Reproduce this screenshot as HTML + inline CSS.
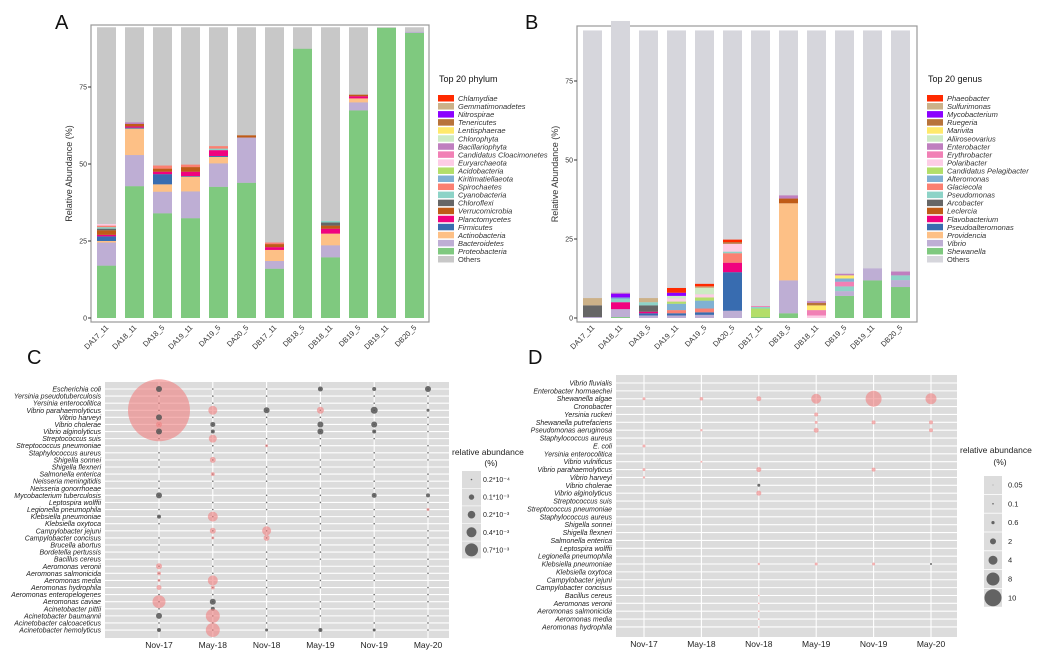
<!DOCTYPE html>
<html><head><meta charset="utf-8"><style>
html,body{margin:0;padding:0;background:#fff}
svg{display:block;font-family:"Liberation Sans",sans-serif}
</style></head><body>
<svg id="s" width="1043" height="660" xmlns="http://www.w3.org/2000/svg"></svg>
<script>
var S=document.getElementById('s'),h='';
function R(x,y,w,H,f,ex){h+='<rect x="'+x+'" y="'+y+'" width="'+w+'" height="'+H+'" fill="'+f+'" '+(ex||'')+'/>';}
function T(x,y,t,sz,ex){h+='<text x="'+x+'" y="'+y+'" font-size="'+sz+'" '+(ex||'')+'>'+t+'</text>';}
function C(x,y,r,f,op){h+='<circle cx="'+x+'" cy="'+y+'" r="'+r+'" fill="'+f+'" fill-opacity="'+op+'"/>';}
var pc=['#FF2A00','#CCB188','#8B00FF','#B8733A','#FFE96B','#CDEBC5','#BF7FBF','#F180B5','#FDCCE5','#B3DE69','#80B1D3','#FB8072','#8DD3C7','#666666','#BF5B17','#F0027F','#386CB0','#FDC086','#BEAED4','#7FC97F'];
var labs=['DA17_11','DA18_11','DA18_5','DA19_11','DA19_5','DA20_5','DB17_11','DB18_5','DB18_11','DB19_5','DB19_11','DB20_5'];
function barPanel(bx0,bx1,by0,by1,y0,ppu,bars,topv,oth,legx,legtitle,names,letter,lx){
 R(bx0,by0,bx1-bx0,by1-by0,'#fff','stroke="#999" stroke-width="1.2"');
 for(var i=0;i<12;i++){var x=bx0+6+28*i,b=bars[i],cum=0;
  R(x,y0-topv[i]*ppu,19,topv[i]*ppu,oth);
  for(var j=0;j<b.length;j++){var c=b[j][0],v=b[j][1];R(x,y0-v*ppu,19,(v-cum)*ppu,pc[c]);cum=v;}
  T(x+12,by1+6,labs[i],7.5,'text-anchor="end" fill="#333" transform="rotate(-45 '+(x+12)+' '+(by1+6)+')"');
 }
 [0,25,50,75].forEach(function(v){var y=y0-v*ppu;h+='<line x1="'+(bx0-3)+'" x2="'+bx0+'" y1="'+y+'" y2="'+y+'" stroke="#333"/>';T(bx0-4,y+2.5,v,7,'text-anchor="end" fill="#333"');});
 var cy=(by0+by1)/2;T(bx0-19,cy,'Relative Abundance (%)',9,'text-anchor="middle" fill="#333" transform="rotate(-90 '+(bx0-19)+' '+cy+')"');
 T(legx,82,legtitle,9,'fill="#111"');
 for(var k=0;k<21;k++){var yy=95+k*8.05;R(legx-1,yy,16,6.5,k<20?pc[k]:oth);T(legx+19,yy+6,names[k],7.5,(k<20?'font-style="italic" ':'')+'fill="#333"');}
 T(lx,29,letter,20,'fill="#111"');
}
var A=[[[19,17],[18,24.5],[17,25],[16,26.5],[15,27],[14,28.5],[13,29],[12,29.5],[11,30],[8,30.5]],
[[19,42.8],[18,52.9],[17,61.5],[16,61.8],[15,62.2],[14,63],[6,63.5]],
[[19,34],[18,41],[17,43.4],[16,46.7],[15,47.5],[14,48.5],[11,49.5]],
[[19,32.4],[18,41.1],[17,45.9],[16,46.1],[15,47.5],[14,49],[11,49.8]],
[[19,42.6],[18,50.2],[17,52.3],[16,52.6],[15,54.5],[12,55],[11,55.8]],
[[19,43.9],[18,58.6],[14,59.3]],
[[19,16],[18,18.5],[17,22.1],[15,23],[14,24],[11,24.5]],
[[19,87.4]],
[[19,19.7],[18,23.6],[17,27.4],[15,29],[14,30],[13,31],[12,31.5]],
[[19,67.4],[18,70],[17,71.3],[15,72],[14,72.5]],
[[19,94.2]],
[[19,92.6],[18,92.9]]];
var At=[94.4,94.4,94.4,94.4,94.4,94.4,94.4,94.4,94.4,94.4,94.4,94.4];
barPanel(91,429,25,322,318,3.08,A,At,'#C8C8C8',439,'Top 20 phylum',['Chlamydiae','Gemmatimonadetes','Nitrospirae','Tenericutes','Lentisphaerae','Chlorophyta','Bacillariophyta','Candidatus Cloacimonetes','Euryarchaeota','Acidobacteria','Kiritimatiellaeota','Spirochaetes','Cyanobacteria','Chloroflexi','Verrucomicrobia','Planctomycetes','Firmicutes','Actinobacteria','Bacteroidetes','Proteobacteria','Others'],'A',55);
var B=[[[18,0.3],[13,4],[1,6.3]],
[[19,0.3],[18,2.8],[15,5],[12,6],[10,6.5],[2,7.7],[6,8]],
[[18,0.8],[16,1.5],[15,2],[13,4],[12,5],[1,6.3]],
[[18,0.8],[16,1.5],[11,2.5],[10,4.5],[9,5.2],[8,6.2],[5,7],[2,8],[0,9.5]],
[[18,1],[16,1.8],[11,3],[10,5.5],[9,6.5],[8,7.5],[5,9.5],[1,10],[0,10.8]],
[[18,2.3],[16,14.5],[15,17.5],[11,20.5],[12,21],[8,23.5],[3,24],[0,24.8]],
[[19,0.3],[9,3],[12,3.5],[7,3.8]],
[[19,1.5],[18,11.9],[17,36.3],[14,37.8],[6,38.8]],
[[8,0.8],[7,2.5],[4,4],[3,4.8],[6,5.3]],
[[19,7],[18,8.5],[12,10],[7,11.5],[10,12.5],[4,13.5],[6,14]],
[[19,11.9],[18,15.7]],
[[19,9.8],[18,12],[12,13.5],[6,14.7]]];
var Bt=[91,94,91,91,91,91,91,91,91,91,91,91];
barPanel(577,917,26,322,318,3.16,B,Bt,'#D6D6DC',928,'Top 20 genus',['Phaeobacter','Sulfurimonas','Mycobacterium','Ruegeria','Marivita','Aliiroseovarius','Enterobacter','Erythrobacter','Polaribacter','Candidatus Pelagibacter','Alteromonas','Glaciecola','Pseudomonas','Arcobacter','Leclercia','Flavobacterium','Pseudoalteromonas','Providencia','Vibrio','Shewanella','Others'],'B',525);
var cols=['Nov-17','May-18','Nov-18','May-19','Nov-19','May-20'];
function bub(px0,px1,py0,py1,ry0,rp,cx0,cp,rows,data,letter,lx,ly){
 R(px0,py0,px1-px0,py1-py0,'#DCDCDC');
 rows.forEach(function(n,i){var y=ry0+i*rp;h+='<line x1="'+px0+'" x2="'+px1+'" y1="'+y+'" y2="'+y+'" stroke="#fff" stroke-width="1.1"/>';T(px0-4,y+2.5,n,7,'text-anchor="end" font-style="italic" fill="#222"');});
 cols.forEach(function(c,j){var x=cx0+j*cp;h+='<line y1="'+py0+'" y2="'+py1+'" x1="'+x+'" x2="'+x+'" stroke="#fff" stroke-width="1.1"/>';T(x,py1+10,c,8.5,'text-anchor="middle" fill="#222"');});
 data.forEach(function(d){C(cx0+d[0]*cp,ry0+d[1]*rp,d[2],d[3]=='g'?'#555':'#F08080',d[3]=='g'?0.85:0.6);});
 T(lx,ly,letter,20,'fill="#111"');
}
var cRows=['Escherichia coli','Yersinia pseudotuberculosis','Yersinia enterocolitica','Vibrio parahaemolyticus','Vibrio harveyi','Vibrio cholerae','Vibrio alginolyticus','Streptococcus suis','Streptococcus pneumoniae','Staphylococcus aureus','Shigella sonnei','Shigella flexneri','Salmonella enterica','Neisseria meningitidis','Neisseria gonorrhoeae','Mycobacterium tuberculosis','Leptospira wolffii','Legionella pneumophila','Klebsiella pneumoniae','Klebsiella oxytoca','Campylobacter jejuni','Campylobacter concisus','Brucella abortus','Bordetella pertussis','Bacillus cereus','Aeromonas veronii','Aeromonas salmonicida','Aeromonas media','Aeromonas hydrophila','Aeromonas enteropelogenes','Aeromonas caviae','Acinetobacter pittii','Acinetobacter baumannii','Acinetobacter calcoaceticus','Acinetobacter hemolyticus'];
var cd=[];for(var i=0;i<35;i++)for(var j=0;j<6;j++)if((i*7+j*3)%4!=0)cd.push([j,i,0.8,'g']);
cd.push([0,3,31,'p']);
cd=cd.concat([[0,0,3,'g'],[3,0,2.5,'g'],[4,0,2,'g'],[5,0,3,'g'],[1,3,4.5,'p'],[2,3,3,'g'],[3,3,3.5,'p'],[4,3,3.5,'g'],[5,3,1.5,'g'],[0,4,3,'g'],[0,5,3,'p'],[1,5,2.5,'g'],[3,5,3,'g'],[4,5,3,'g'],[0,6,3,'g'],[1,6,2,'g'],[3,6,3,'g'],[4,6,2,'g'],[1,7,4,'p'],[2,8,1.5,'p'],[1,10,3,'p'],[1,12,2,'p'],[0,15,3,'g'],[4,15,2.5,'g'],[5,15,2,'g'],[5,17,1.5,'p'],[0,18,2,'g'],[1,18,5,'p'],[1,20,3,'p'],[2,20,4.5,'p'],[1,21,1.5,'p'],[2,21,3,'p'],[0,25,3,'p'],[0,26,2,'p'],[1,27,5,'p'],[0,27,1.5,'p'],[0,28,2.5,'p'],[1,28,2,'p'],[0,30,6.5,'p'],[1,30,3,'g'],[1,31,2,'g'],[0,32,3,'g'],[1,32,7,'p'],[1,34,7,'p'],[0,34,2,'g'],[3,34,2,'g'],[4,34,1.5,'g'],[2,34,1.5,'g']]);
bub(105,449,382,638,389,7.09,159,53.8,cRows,cd,'C',27,364);
T(452,455,'relative abundance',8.5,'fill="#222"');T(491,466,'(%)',8.5,'text-anchor="middle" fill="#222"');
[[0.8,'0.2*10⁻⁴'],[2.7,'0.1*10⁻³'],[3.8,'0.2*10⁻³'],[5,'0.4*10⁻³'],[6.5,'0.7*10⁻³']].forEach(function(k,i){var y=471+i*17.6;R(462,y,19,17,'#DCDCDC');C(471.5,y+8.5,k[0],'#555',0.9);T(483,y+11,k[1],7,'fill="#222"');});
var dRows=['Vibrio fluvialis','Enterobacter hormaechei','Shewanella algae','Cronobacter','Yersinia ruckeri','Shewanella putrefaciens','Pseudomonas aeruginosa','Staphylococcus aureus','E. coli','Yersinia enterocolitica','Vibrio vulnificus','Vibrio parahaemolyticus','Vibrio harveyi','Vibrio cholerae','Vibrio alginolyticus','Streptococcus suis','Streptococcus pneumoniae','Staphylococcus aureus','Shigella sonnei','Shigella flexneri','Salmonella enterica','Leptospira wolffii','Legionella pneumophila','Klebsiella pneumoniae','Klebsiella oxytoca','Campylobacter jejuni','Campylobacter concisus','Bacillus cereus','Aeromonas veronii','Aeromonas salmonicida','Aeromonas media','Aeromonas hydrophila'];
var dd=[[0,2,1.5],[1,2,1.8],[2,2,2.5],[3,2,5],[4,2,8],[5,2,5.5],[3,4,2],[3,5,1.5],[4,5,2],[5,5,2],[1,6,1.2],[3,6,2.5],[5,6,2],[0,8,1.5],[1,10,1],[0,11,1.5],[2,11,2.5],[4,11,2],[0,12,1.2],[2,13,1.5,'g'],[2,14,2.5],[2,23,1.2],[3,23,1.5],[4,23,1.5],[5,23,1,'g'],[2,27,0.8],[2,28,0.8],[2,29,0.8],[2,30,0.8],[2,31,0.8]].map(function(d){return [d[0],d[1],d[2],d[3]||'p'];});
bub(616,957,375,637,383,7.87,644,57.4,dRows,dd,'D',528,364);
T(960,453,'relative abundance',8.5,'fill="#222"');T(1000,465,'(%)',8.5,'text-anchor="middle" fill="#222"');
[[0.4,'0.05'],[0.8,'0.1'],[1.6,'0.6'],[3,'2'],[4.5,'4'],[6.5,'8'],[8.5,'10']].forEach(function(k,i){var y=476+i*18.8;R(984,y,18,18,'#DCDCDC');C(993,y+9,k[0],'#555',0.9);T(1008,y+11.5,k[1],7.5,'fill="#222"');});
S.innerHTML=h;
</script>
</body></html>
